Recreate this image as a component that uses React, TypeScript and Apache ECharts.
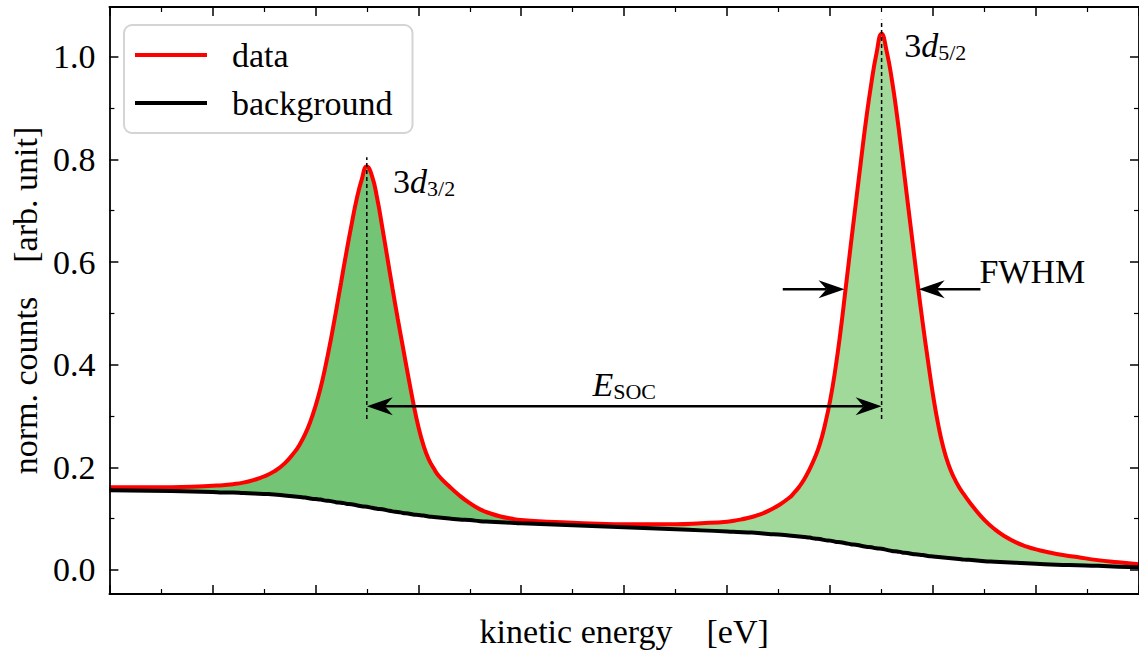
import React, { useEffect, useRef } from "react";
import * as echarts from "echarts";

// kinetic energy (arb. axis, 0..10) and read-off curve values
const energy = [
  0.0, 0.4, 0.8, 1.0, 1.1, 1.2, 1.3, 1.4, 1.5, 1.6, 1.7,
  1.8, 1.85, 1.9, 1.95, 2.0, 2.05, 2.1, 2.15, 2.2, 2.25, 2.3, 2.35, 2.4, 2.45, 2.5, 2.55, 2.6, 2.65, 2.7, 2.75, 2.8, 2.85, 2.9, 2.95, 3.0, 3.05, 3.1, 3.15,
  3.2, 3.3, 3.4, 3.5, 3.6, 3.7, 3.8, 3.9, 4.0, 4.25, 4.5, 4.75, 5.0, 5.25, 5.5, 5.75, 6.0, 6.1, 6.2, 6.3, 6.4, 6.5,
  6.6, 6.65, 6.7, 6.75, 6.8, 6.85, 6.9, 6.95, 7.0, 7.05, 7.1, 7.15, 7.2, 7.25, 7.3, 7.35, 7.4, 7.45, 7.5,
  7.55, 7.6, 7.65, 7.7, 7.75, 7.8, 7.85, 7.9, 7.95, 8.0, 8.05, 8.1, 8.15, 8.2, 8.25, 8.3,
  8.4, 8.5, 8.6, 8.7, 8.8, 8.9, 9.0, 9.2, 9.4, 9.6, 9.8, 10.0,
];
const dataCounts = [
  0.161, 0.161, 0.162, 0.164, 0.165, 0.167, 0.17, 0.175, 0.182, 0.192, 0.207,
  0.23, 0.245, 0.264, 0.288, 0.318, 0.354, 0.398, 0.448, 0.503, 0.56, 0.617, 0.671, 0.721, 0.76, 0.786, 0.768, 0.725, 0.668, 0.608, 0.548, 0.49, 0.435, 0.38, 0.327, 0.28, 0.243, 0.216, 0.198,
  0.183, 0.163, 0.145, 0.13, 0.118, 0.11, 0.104, 0.1, 0.097, 0.094, 0.092, 0.09, 0.089, 0.089, 0.089, 0.091, 0.094, 0.097, 0.101, 0.107, 0.115, 0.126,
  0.14, 0.15, 0.162, 0.177, 0.196, 0.218, 0.245, 0.283, 0.33, 0.39, 0.463, 0.547, 0.632, 0.715, 0.798, 0.878, 0.948, 1.006, 1.045,
  1.01, 0.955, 0.885, 0.805, 0.722, 0.64, 0.558, 0.48, 0.408, 0.34, 0.283, 0.238, 0.205, 0.181, 0.162, 0.147,
  0.12, 0.097, 0.079, 0.065, 0.054, 0.046, 0.04, 0.031, 0.025, 0.019, 0.015, 0.011,
];
const backgroundCounts = [
  0.155, 0.154, 0.153, 0.152, 0.151, 0.151, 0.15, 0.149, 0.148, 0.147, 0.145,
  0.143, 0.142, 0.141, 0.139, 0.138, 0.137, 0.135, 0.134, 0.132, 0.131, 0.129, 0.128, 0.126, 0.124, 0.123, 0.121, 0.119, 0.118, 0.116, 0.114, 0.113, 0.111, 0.11, 0.108, 0.107, 0.106, 0.104, 0.103,
  0.102, 0.1, 0.098, 0.097, 0.095, 0.094, 0.093, 0.092, 0.091, 0.089, 0.087, 0.085, 0.083, 0.081, 0.079, 0.077, 0.075, 0.074, 0.073, 0.072, 0.07, 0.069,
  0.067, 0.066, 0.065, 0.064, 0.063, 0.061, 0.06, 0.058, 0.057, 0.055, 0.054, 0.052, 0.05, 0.049, 0.047, 0.045, 0.044, 0.042, 0.041,
  0.039, 0.037, 0.036, 0.034, 0.033, 0.031, 0.03, 0.029, 0.027, 0.026, 0.025, 0.024, 0.023, 0.022, 0.021, 0.02,
  0.019, 0.017, 0.016, 0.015, 0.014, 0.013, 0.012, 0.01, 0.009, 0.008, 0.006, 0.005,
];
const yTickValues = [0, 0.2, 0.4, 0.6, 0.8, 1.0];
const yMinorValues = [0.1, 0.3, 0.5, 0.7, 0.9];

// annotation anchors in data units
const dashLines = [
  { x: 2.5, y0: 0.294, y1: 0.804 },
  { x: 7.5, y0: 0.294, y1: 1.072 },
];
const socArrow = { y: 0.319, x0: 2.5, x1: 7.5 };
const socLabel = { x: 5.0, y: 0.362 };
const fwhmArrows = [
  { y: 0.547, from: 6.54, to: 7.14 },
  { y: 0.547, from: 8.46, to: 7.86 },
];
const fwhmLabel = { x: 8.45, y: 0.581 };
const peakLabels = [
  { x: 2.755, y: 0.757, sub: "3/2" },
  { x: 7.72, y: 1.021, sub: "5/2" },
];

const FONT = '"Liberation Serif", "Times New Roman", serif';
const DARK_GREEN = "#74c476";
const LIGHT_GREEN = "#a1d99b";
const SMOOTH = 0.5;

export default function App() {
  const ref = useRef<HTMLDivElement>(null);

  useEffect(() => {
    if (!ref.current) return;
    const chart = echarts.init(ref.current, undefined, { renderer: "svg" });

    const axisLine = { show: true, onZero: false, lineStyle: { color: "#000", width: 1.8 } };
    const majorTick = { show: true, inside: true, length: 9, lineStyle: { color: "#000", width: 1.5 } };
    const minorTickStyle = { show: true, splitNumber: 2, length: 5, lineStyle: { color: "#000", width: 1.2 } };

    const xBase = {
      type: "value" as const,
      min: 0,
      max: 10,
      interval: 1,
      axisLine,
      axisTick: majorTick,
      minorTick: minorTickStyle,
      axisLabel: { show: false },
      splitLine: { show: false },
      z: 10,
    };

    const yBase = {
      type: "value" as const,
      min: -0.047,
      max: 1.097,
      splitLine: { show: false },
      z: 10,
    };

    const dataPts = energy.map((x, i) => [x, dataCounts[i]]);
    const bgPts = energy.map((x, i) => [x, backgroundCounts[i]]);

    const option: any = {
      animation: false,
      backgroundColor: "#fff",
      grid: { left: 106, top: 7, width: 1035, height: 588, containLabel: false },
      legend: {
        show: true,
        data: ["data", "background"],
        orient: "vertical",
        left: 124,
        top: 25,
        padding: [10, 20, 10, 11],
        itemGap: 8,
        itemWidth: 72,
        itemHeight: 3.8,
        icon: "rect",
        selectedMode: false,
        backgroundColor: "#fff",
        borderColor: "#d4d4d4",
        borderWidth: 2,
        borderRadius: 8,
        z: 20,
        textStyle: { fontFamily: FONT, fontSize: 34, color: "#000", padding: [0, 0, 0, 20], lineHeight: 40 },
      },
      xAxis: [
        {
          ...xBase,
          position: "bottom",
          name: "kinetic energy\u2003[eV]",
          nameLocation: "middle",
          nameGap: 20,
          nameTextStyle: { fontFamily: FONT, fontSize: 34, color: "#000" },
        },
        { ...xBase, position: "top" },
      ],
      yAxis: [
        {
          ...yBase,
          position: "left",
          axisLine: { ...axisLine },
          axisTick: { ...majorTick, customValues: yTickValues },
          axisLabel: {
            show: true,
            customValues: yTickValues,
            formatter: (v: number) => v.toFixed(1),
            margin: 14,
            fontFamily: FONT,
            fontSize: 34,
            color: "#000",
          },
          name: "norm. counts\u2003[arb. unit]",
          nameLocation: "middle",
          nameGap: 58,
          nameTextStyle: { fontFamily: FONT, fontSize: 34, color: "#000" },
        },
        {
          ...yBase,
          position: "left",
          axisLine: { show: false, onZero: false },
          axisTick: { show: true, inside: true, length: 5, customValues: yMinorValues, lineStyle: { color: "#000", width: 1.2 } },
          axisLabel: { show: false },
        },
        {
          ...yBase,
          position: "right",
          axisLine: { ...axisLine },
          axisTick: { ...majorTick, customValues: yTickValues },
          axisLabel: { show: false },
        },
        {
          ...yBase,
          position: "right",
          axisLine: { show: false, onZero: false },
          axisTick: { show: true, inside: true, length: 5, customValues: yMinorValues, lineStyle: { color: "#000", width: 1.2 } },
          axisLabel: { show: false },
        },
      ],
      series: [
        {
          // green fill under the data curve
          name: "dataFill",
          type: "line",
          data: dataPts,
          showSymbol: false,
          smooth: SMOOTH,
          silent: true,
          lineStyle: { width: 0, opacity: 0 },
          areaStyle: {
            opacity: 1,
            origin: "start",
            color: new echarts.graphic.LinearGradient(0, 0, 1, 0, [
              { offset: 0, color: DARK_GREEN },
              { offset: 0.5, color: DARK_GREEN },
              { offset: 0.5, color: LIGHT_GREEN },
              { offset: 1, color: LIGHT_GREEN },
            ]),
          },
          z: 1,
        },
        {
          // white below the background curve, so green shows only between the curves
          name: "bgMask",
          type: "line",
          data: bgPts,
          showSymbol: false,
          smooth: SMOOTH,
          silent: true,
          lineStyle: { width: 0, opacity: 0 },
          areaStyle: { opacity: 1, origin: "start", color: "#fff" },
          z: 2,
        },
        {
          name: "data",
          type: "line",
          data: dataPts,
          showSymbol: false,
          smooth: SMOOTH,
          itemStyle: { color: "#ff0000" },
          lineStyle: { color: "#ff0000", width: 4 },
          z: 3,
        },
        {
          name: "background",
          type: "line",
          data: bgPts,
          showSymbol: false,
          smooth: SMOOTH,
          itemStyle: { color: "#000" },
          lineStyle: { color: "#000", width: 4 },
          z: 4,
        },
      ],
    };

    chart.setOption(option);

    const P = (x: number, y: number) => chart.convertToPixel({ gridIndex: 0 }, [x, y]) as number[];
    const L = 26; // arrowhead length
    const H = 9; // arrowhead half width
    const N = 18; // notch depth
    const head = (tx: number, ty: number, dir: number) => ({
      type: "polygon",
      z: 100,
      shape: {
        points: [
          [tx, ty],
          [tx - dir * L, ty - H],
          [tx - dir * N, ty],
          [tx - dir * L, ty + H],
        ],
      },
      style: { fill: "#000" },
    });

    const graphics: any[] = [];
    dashLines.forEach((d) => {
      const a = P(d.x, d.y0);
      const b = P(d.x, d.y1);
      graphics.push({
        type: "line",
        z: 100,
        shape: { x1: a[0], y1: a[1], x2: b[0], y2: b[1] },
        style: { stroke: "#000", lineWidth: 1.5, lineDash: [4, 3] },
      });
    });

    // E_SOC double arrow
    const sa = P(socArrow.x0, socArrow.y);
    const sb = P(socArrow.x1, socArrow.y);
    graphics.push({
      type: "line",
      z: 100,
      shape: { x1: sa[0] + N, y1: sa[1], x2: sb[0] - N, y2: sb[1] },
      style: { stroke: "#000", lineWidth: 2.5 },
    });
    graphics.push(head(sa[0], sa[1], -1));
    graphics.push(head(sb[0], sb[1], 1));

    fwhmArrows.forEach((f) => {
      const a = P(f.from, f.y);
      const b = P(f.to, f.y);
      const dir = b[0] > a[0] ? 1 : -1;
      graphics.push({
        type: "line",
        z: 100,
        shape: { x1: a[0], y1: a[1], x2: b[0] - dir * N, y2: b[1] },
        style: { stroke: "#000", lineWidth: 2.5 },
      });
      graphics.push(head(b[0], b[1], dir));
    });

    const sl = P(socLabel.x, socLabel.y);
    graphics.push({
      type: "text",
      z: 100,
      x: sl[0],
      y: sl[1],
      style: {
        text: "{e|E}{s|SOC}",
        align: "center",
        verticalAlign: "middle",
        rich: {
          e: { fontFamily: FONT, fontSize: 34, fontStyle: "italic", lineHeight: 36, fill: "#000" },
          s: { fontFamily: FONT, fontSize: 22, lineHeight: 18, verticalAlign: "bottom", fill: "#000" },
        },
      },
    });

    const fl = P(fwhmLabel.x, fwhmLabel.y);
    graphics.push({
      type: "text",
      z: 100,
      x: fl[0],
      y: fl[1],
      style: { text: "FWHM", fontFamily: FONT, fontSize: 34, fill: "#000", align: "left", verticalAlign: "middle" },
    });

    peakLabels.forEach((p) => {
      const q = P(p.x, p.y);
      graphics.push({
        type: "text",
        z: 100,
        x: q[0],
        y: q[1],
        style: {
          text: `{n|3}{i|d}{s|${p.sub}}`,
          align: "left",
          verticalAlign: "middle",
          rich: {
            n: { fontFamily: FONT, fontSize: 34, lineHeight: 36, fill: "#000" },
            i: { fontFamily: FONT, fontSize: 34, fontStyle: "italic", lineHeight: 36, fill: "#000" },
            s: { fontFamily: FONT, fontSize: 22, lineHeight: 18, verticalAlign: "bottom", fill: "#000" },
          },
        },
      });
    });

    chart.setOption({ graphic: graphics });

    return () => chart.dispose();
  }, []);

  return (
    <div
      ref={ref}
      style={{ position: "fixed", left: 0, top: 0, width: 1139, height: 653, background: "#fff" }}
    />
  );
}
